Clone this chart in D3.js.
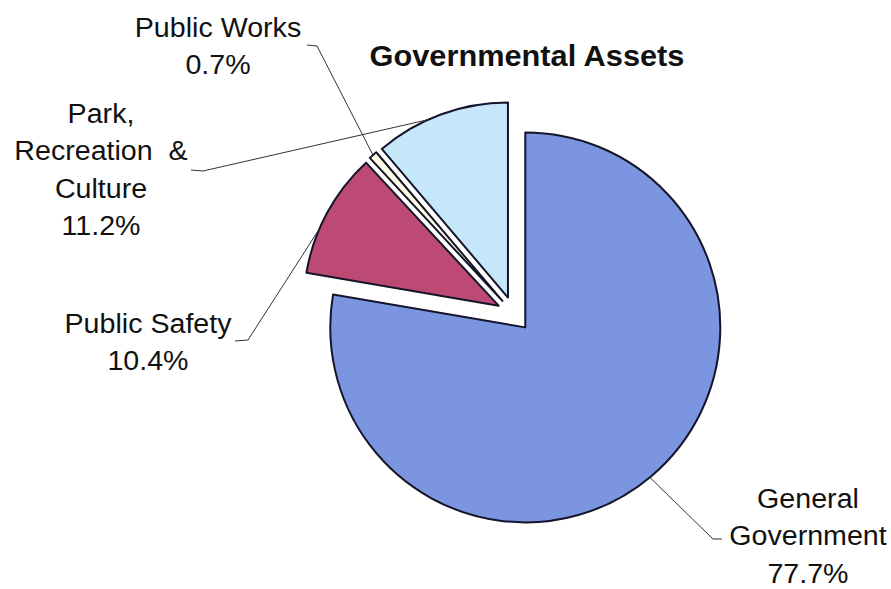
<!DOCTYPE html>
<html lang="en">
<head>
<meta charset="utf-8">
<title>Governmental Assets</title>
<script src="https://d3js.org/d3.v7.min.js"></script>
<style>
  body { margin: 0; background: #fff; }
  text { font-family: "Liberation Sans", Arial, sans-serif; fill: #111; }
  .leader { fill: none; stroke: #333; stroke-width: 1; }
</style>
</head>
<body>
<svg id="chart" width="891" height="589"></svg>
<script>
// data
let categories = ["General Government", "Public Safety", "Public Works", "Park, Recreation & Culture"];
let values = [77.7, 10.4, 0.7, 11.2];
let labelLines = [
    ["General", "Government", "77.7%"],
    ["Public Safety", "10.4%"],
    ["Public Works", "0.7%"],
    ["Park,", "Recreation\u00a0 &", "Culture", "11.2%"]
];
let colors = ["#7b95e0", "#bd4a74", "#fdfbe4", "#c6e6fa"];

let svg = d3.select("#chart");
let cx = 514, cy = 314, radius = 195, explode = 17.5;

// label placement: text anchor, baseline of first line, leader elbow/end, angle on arc
let labelPos = [
    {x: 808, y: 508, lead: [[713, 539], [722, 539]], angle: 140.3},
    {x: 148, y: 333, lead: [[248, 340], [235, 341]], angle: 293.2},
    {x: 218, y: 37,  lead: [[317, 46], [307, 45]], angle: null},
    {x: 101, y: 123, lead: [[203, 171], [191, 170]], angle: 335.8}
];
let lineHeight = 37.5;

let pie = d3.pie().sort(null).value(d => d);
let arc = d3.arc().innerRadius(0).outerRadius(radius);
let arcs = pie(values);

let g = svg.append("g").attr("transform", "translate(" + cx + "," + cy + ")");

function offset(d) {
    let a = (d.startAngle + d.endAngle) / 2;
    return [explode * Math.sin(a), -explode * Math.cos(a)];
}

g.selectAll(".slice")
    .data(arcs)
    .enter()
    .append("path")
    .attr("class", "slice")
    .attr("transform", d => "translate(" + offset(d) + ")")
    .attr("d", arc)
    .attr("fill", (d, i) => colors[i])
    .attr("stroke", "#14142a")
    .attr("stroke-width", 2)
    .attr("stroke-linejoin", "round");

// leader lines
arcs.forEach((d, i) => {
    let p = labelPos[i];
    let off = offset(d);
    let a = p.angle == null ? (d.startAngle + d.endAngle) / 2 : p.angle * Math.PI / 180;
    let start = [cx + off[0] + radius * Math.sin(a), cy + off[1] - radius * Math.cos(a)];
    let pts = [start].concat(p.lead);
    svg.append("path")
        .attr("class", "leader")
        .attr("d", d3.line()(pts));
});

// labels
labelLines.forEach((lines, i) => {
    let p = labelPos[i];
    let t = svg.append("text")
        .attr("text-anchor", "middle")
        .attr("font-size", 27)
        .attr("transform", "translate(" + p.x + "," + p.y + ") scale(1.06,1)");
    lines.forEach((s, j) => {
        t.append("tspan").attr("x", 0).attr("y", j * lineHeight).text(s);
    });
});

// title
svg.append("text")
    .attr("text-anchor", "middle")
    .attr("font-size", 29)
    .attr("font-weight", "bold")
    .attr("transform", "translate(527,66) scale(1.06,1)")
    .text("Governmental Assets");
</script>
</body>
</html>
